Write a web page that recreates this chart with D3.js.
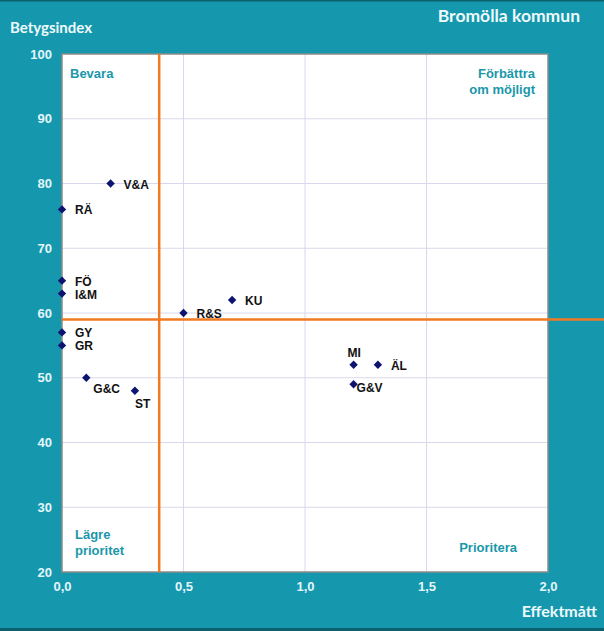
<!DOCTYPE html>
<html><head><meta charset="utf-8">
<script src="https://cdn.jsdelivr.net/npm/d3@7"></script>
<style>body{margin:0;background:#fff}svg{display:block}</style>
</head><body>
<script>
const labels = ["V&A","RÄ","FÖ","I&M","GY","GR","R&S","KU","G&C","ST","MI","ÄL","G&V"];
const effekt = [0.2,0,0,0,0,0,0.5,0.7,0.1,0.3,1.2,1.3,1.2];
const betyg  = [80,76,65,63,57,55,60,62,50,48,52,52,49];
const xTicks = [0,0.5,1,1.5,2];
const yTicks = [20,30,40,50,60,70,80,90,100];
const refX = 0.4, refY = 59;
const quadrants = [
  {lines:["Bevara"], pos:"tl"},
  {lines:["Förbättra","om möjligt"], pos:"tr"},
  {lines:["Lägre","prioritet"], pos:"bl"},
  {lines:["Prioritera"], pos:"br"}
];
const labelPos = {"V&A":"r","RÄ":"r","FÖ":"r","I&M":"r","GY":"r","GR":"r","R&S":"r","KU":"r","G&C":"br","ST":"b","MI":"t","ÄL":"r","G&V":"rb"};

const W=604,H=631;
const svg=d3.select("body").append("svg").attr("width",W).attr("height",H);
svg.append("rect").attr("width",W).attr("height",H).attr("fill","#1598ae");
svg.append("rect").attr("x",0).attr("y",0).attr("width",W).attr("height",1.5).attr("fill","#0b5f6e");
svg.append("rect").attr("x",0).attr("y",H-3).attr("width",W).attr("height",3).attr("fill","#0b5f6e");

const L=62,R=548,T=54,B=572;
const x=d3.scaleLinear().domain([0,2]).range([L,R]);
const y=d3.scaleLinear().domain([20,100]).range([B,T]);

svg.append("rect").attr("x",L).attr("y",T).attr("width",R-L).attr("height",B-T).attr("fill","#fff");
svg.append("g").selectAll("line").data(yTicks.slice(1,-1)).join("line")
  .attr("x1",L).attr("x2",R).attr("y1",d=>y(d)).attr("y2",d=>y(d))
  .attr("stroke","#d8d8ec").attr("stroke-width",1);
svg.append("g").selectAll("line").data(xTicks.slice(1,-1)).join("line")
  .attr("y1",T).attr("y2",B).attr("x1",d=>x(d)).attr("x2",d=>x(d))
  .attr("stroke","#d8d8ec").attr("stroke-width",1);
svg.append("rect").attr("x",L).attr("y",T).attr("width",R-L).attr("height",B-T)
  .attr("fill","none").attr("stroke","#8a8a8a").attr("stroke-width",1.5);

const yAxis=d3.axisLeft(y).tickValues(yTicks).tickSize(0).tickPadding(10).tickFormat(d3.format("d"));
const gy=svg.append("g").attr("transform",`translate(${L},0)`).call(yAxis);
const xAxis=d3.axisBottom(x).tickValues(xTicks).tickSize(0).tickPadding(10).tickFormat(d=>d.toFixed(1).replace(".",","));
const gx=svg.append("g").attr("transform",`translate(0,${B})`).call(xAxis);
[gx,gy].forEach(g=>{g.select(".domain").remove();
  g.selectAll("text").attr("fill","#e4f6fa").style("font-family","Liberation Sans, Arial, sans-serif").style("font-size","13px").style("font-weight","bold");});

svg.append("line").attr("x1",x(refX)).attr("x2",x(refX)).attr("y1",T).attr("y2",B).attr("stroke","#f07a22").attr("stroke-width",2.5);
svg.append("line").attr("x1",L).attr("x2",W).attr("y1",y(refY)).attr("y2",y(refY)).attr("stroke","#f07a22").attr("stroke-width",2.5);

const qf={"font-family":"Liberation Sans, Arial, sans-serif","font-size":"13px","font-weight":"bold","fill":"#1a97aa"};
quadrants.forEach(q=>{
  let tx,ty,anchor;
  if(q.pos==="tl"){tx=L+8;ty=T+24;anchor="start";}
  if(q.pos==="tr"){tx=R-13;ty=T+24;anchor="end";}
  if(q.pos==="bl"){tx=L+13;ty=B-33;anchor="start";}
  if(q.pos==="br"){tx=R-31;ty=B-20;anchor="end";}
  const t=svg.append("text").attr("text-anchor",anchor);
  Object.entries(qf).forEach(([k,v])=>t.style(k,v));
  q.lines.forEach((s,i)=>t.append("tspan").attr("x",tx).attr("y",ty+i*16).text(s));
});

const data=labels.map((l,i)=>({l,x:effekt[i],y:betyg[i]}));
const dia="M0,-4.2L4.2,0L0,4.2L-4.2,0Z";
svg.append("g").selectAll("path").data(data).join("path")
  .attr("d",dia).attr("transform",d=>`translate(${x(d.x)},${y(d.y)})`).attr("fill","#0d1470");
const off={r:[13,5,"start"],br:[7,15,"start"],b:[0,17,"start"],t:[-6,-8,"start"],rb:[3,8,"start"]};
svg.append("g").selectAll("text").data(data).join("text")
  .attr("x",d=>x(d.x)+off[labelPos[d.l]][0]).attr("y",d=>y(d.y)+off[labelPos[d.l]][1])
  .attr("text-anchor",d=>off[labelPos[d.l]][2])
  .style("font-family","Liberation Sans, Arial, sans-serif").style("font-size","12px").style("font-weight","bold").attr("fill","#111")
  .text(d=>d.l);

const tf=(t)=>t.style("font-family","Lato, Open Sans, sans-serif").style("font-weight","bold").attr("fill","#eefafc");
tf(svg.append("text").attr("x",580).attr("y",22).attr("text-anchor","end").style("font-size","17.5px").text("Bromölla kommun"));
tf(svg.append("text").attr("x",10).attr("y",33).style("font-size","15px").text("Betygsindex"));
tf(svg.append("text").attr("x",597).attr("y",617).attr("text-anchor","end").style("font-size","16px").text("Effektmått"));
</script>
</body></html>
